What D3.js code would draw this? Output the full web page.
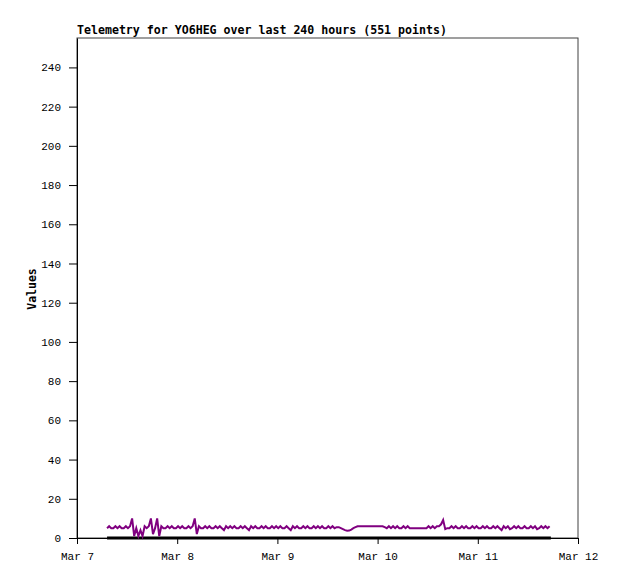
<!DOCTYPE html>
<html>
<head>
<meta charset="utf-8">
<script src="https://cdn.jsdelivr.net/npm/d3@7"></script>
<style>
  body { margin: 0; background: #fff; }
  svg { display: block; }
</style>
</head>
<body>
<div id="chart"></div>
<script>
const width = 618;
const height = 579;

const title = 'Telemetry for YO6HEG over last 240 hours (551 points)';
const yLabel = 'Values';

// x domain: Mar 7 00:00 .. Mar 12 00:00
const xStart = new Date(2024, 2, 7);
const xEnd = new Date(2024, 2, 12);
const yTicks = [0, 20, 40, 60, 80, 100, 120, 140, 160, 180, 200, 220, 240];

// purple series, one reading every 30 minutes from Mar 7 07:12
const seriesStartHour = 7.2;
const seriesStepHours = 0.5;
const seriesValues = [
    5, 6, 5, 5, 6, 5, 6, 5, 5, 6, 5, 6, 10, 1, 5, 1, 4, 1, 6, 5,
    6, 10, 2, 5, 10, 1, 6, 5, 5, 6, 5, 6, 5, 5, 6, 5, 6, 5, 5, 6,
    5, 6, 10, 2, 6, 5, 5, 6, 5, 6, 5, 5, 6, 5, 6, 5, 4, 6, 5, 6,
    5, 6, 5, 5, 6, 5, 6, 5, 4, 6, 5, 6, 5, 5, 6, 5, 6, 5, 5, 6,
    5, 6, 5, 6, 5, 5, 6, 5, 4, 6, 5, 6, 5, 5, 6, 5, 6, 5, 5, 6,
    5, 6, 5, 6, 5, 5, 6, 5, 6, 5, 5.5, 5.5, 5, 4.5, 4, 3.7, 3.8, 4.3, 5, 5.5,
    6, 6, 6, 6, 6, 6, 6, 6, 6, 6, 6, 6, 6, 5.5, 5, 6, 5, 6, 5, 6,
    5, 5, 6, 5, 6, 5, 5, 5, 5, 5, 5, 5, 5, 5, 6, 5, 6, 5, 6, 6,
    7, 9.2, 4.5, 5, 5, 6, 5, 6, 5, 5, 6, 5, 6, 5, 5, 6, 5, 6, 5, 5,
    6, 5, 6, 5, 5, 6, 5, 6, 5, 4, 6, 5, 6, 4.5, 5, 6, 5, 6, 5, 5,
    6, 5, 5, 6, 5, 6, 4.5, 5, 6, 5, 6, 5, 6
];

// black series: flat zero over the same span
const zeroHours = [7.2, 113.5];
const zeroValues = [0, 0];

const margin = {top: 38, right: 40, bottom: 41, left: 77};

let svg = d3.select('#chart').append('svg')
    .attr('width', width)
    .attr('height', height);

let x = d3.scaleTime()
    .domain([xStart, xEnd])
    .range([margin.left, width - margin.right]);

let y = d3.scaleLinear()
    .domain([0, 255])
    .range([height - margin.bottom, margin.top]);

let hourToDate = h => new Date(xStart.getTime() + h * 3600 * 1000);

// frame
svg.append('rect')
    .attr('x', margin.left)
    .attr('y', margin.top)
    .attr('width', width - margin.right - margin.left)
    .attr('height', height - margin.bottom - margin.top)
    .attr('fill', 'none')
    .attr('stroke', '#404040')
    .attr('stroke-width', 1);

// y axis
let yAxis = svg.append('g')
    .attr('transform', 'translate(' + margin.left + ',0)')
    .call(d3.axisLeft(y).tickValues(yTicks).tickSize(8).tickPadding(8).tickSizeOuter(0));
yAxis.select('.domain').attr('stroke', '#000');
yAxis.selectAll('text')
    .attr('font-family', '"Liberation Mono", monospace')
    .attr('font-size', 11)
    .attr('fill', '#000');

// x axis
let xAxis = svg.append('g')
    .attr('transform', 'translate(0,' + (height - margin.bottom) + ')')
    .call(d3.axisBottom(x).ticks(d3.timeDay.every(1)).tickFormat(d3.timeFormat('%b %-d'))
        .tickSize(6).tickPadding(8).tickSizeOuter(0));
xAxis.select('.domain').attr('stroke', '#000');
xAxis.selectAll('text')
    .attr('font-family', '"Liberation Mono", monospace')
    .attr('font-size', 11)
    .attr('fill', '#000');

// series
let line = d3.line()
    .x(d => x(d.t))
    .y(d => y(d.v));

let zeroData = zeroHours.map((h, i) => ({t: hourToDate(h), v: zeroValues[i]}));
svg.append('path')
    .datum(zeroData)
    .attr('d', line)
    .attr('fill', 'none')
    .attr('stroke', '#000')
    .attr('stroke-width', 3);

let purpleData = seriesValues.map((v, i) => ({t: hourToDate(seriesStartHour + i * seriesStepHours), v: v}));
svg.append('path')
    .datum(purpleData)
    .attr('d', line)
    .attr('fill', 'none')
    .attr('stroke', '#800080')
    .attr('stroke-width', 2);

// title
svg.append('text')
    .attr('x', margin.left)
    .attr('y', 34)
    .attr('font-family', '"DejaVu Sans Mono", monospace')
    .attr('font-weight', 'bold')
    .attr('font-size', 11.6)
    .text(title);

// y label
svg.append('text')
    .attr('transform', 'translate(36,' + 289 + ') rotate(-90)')
    .attr('text-anchor', 'middle')
    .attr('font-family', '"DejaVu Sans Mono", monospace')
    .attr('font-weight', 'bold')
    .attr('font-size', 11.5)
    .text(yLabel);
</script>
</body>
</html>
